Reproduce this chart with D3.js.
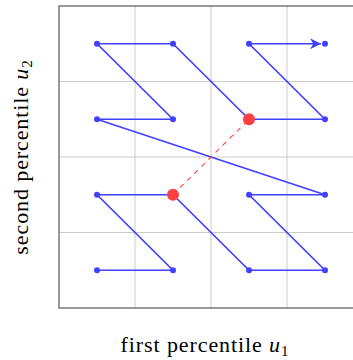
<!doctype html>
<html>
  <head>
    <script src="https://cdn.jsdelivr.net/npm/d3@7"></script>
    <style>
      body { margin: 0; background: #fff; }
      text { font-family: "Liberation Serif", "DejaVu Serif", serif; }
    </style>
  </head>
  <body>
    <script>
        // Z-order traversal of a 4x4 grid, in grid cell indices (col, row from bottom)
        var cols = [0, 1, 0, 1, 2, 3, 2, 3, 0, 1, 0, 1, 2, 3, 2, 3];
        var rows = [0, 0, 1, 1, 0, 0, 1, 1, 2, 2, 3, 3, 2, 2, 3, 3];
        var centers = [0.125, 0.375, 0.625, 0.875];
        var gridTicks = [0.25, 0.5, 0.75];
        var highlight = [[0.375, 0.375], [0.625, 0.625]];

        var blue = "#4040ff", red = "#ff4040";

        var margin = {top: 6, left: 59};
        var width = 304, height = 302;

        var svg = d3.select("body").append("svg")
            .attr("width", 353)
            .attr("height", 360);

        svg.append("defs").append("marker")
            .attr("id", "arrow")
            .attr("viewBox", "0 -5 10 10")
            .attr("refX", 10).attr("refY", 0)
            .attr("markerWidth", 11).attr("markerHeight", 11)
            .attr("markerUnits", "userSpaceOnUse")
            .attr("orient", "auto")
            .append("path")
            .attr("d", "M0,-5L10,0L0,5L3,0Z")
            .attr("fill", blue);

        var g = svg.append("g")
            .attr("transform", `translate(${margin.left},${margin.top})`);

        var x = d3.scaleLinear().domain([0, 1]).range([0, width]);
        var y = d3.scaleLinear().domain([0, 1]).range([height, 0]);

        // grid
        g.selectAll(".gx").data(gridTicks).enter().append("line")
            .attr("x1", d => x(d)).attr("x2", d => x(d))
            .attr("y1", 0).attr("y2", height)
            .attr("stroke", "#cccccc").attr("stroke-width", 1);
        g.selectAll(".gy").data(gridTicks).enter().append("line")
            .attr("y1", d => y(d)).attr("y2", d => y(d))
            .attr("x1", 0).attr("x2", width)
            .attr("stroke", "#cccccc").attr("stroke-width", 1);

        // frame
        g.append("rect")
            .attr("x", 0).attr("y", 0)
            .attr("width", width).attr("height", height)
            .attr("fill", "none")
            .attr("stroke", "#555").attr("stroke-width", 1.2);

        var pts = cols.map((c, i) => [centers[c], centers[rows[i]]]);

        // path, last segment shortened so the arrow sits before the dot
        var line = d3.line().x(d => x(d[0])).y(d => y(d[1]));
        g.append("path")
            .datum(pts.slice(0, -1))
            .attr("d", line)
            .attr("fill", "none")
            .attr("stroke", blue)
            .attr("stroke-width", 1.7)
            .attr("stroke-linejoin", "round");

        var a = pts[pts.length - 2], b = pts[pts.length - 1];
        g.append("line")
            .attr("x1", x(a[0])).attr("y1", y(a[1]))
            .attr("x2", x(b[0]) - 4).attr("y2", y(b[1]))
            .attr("stroke", blue)
            .attr("stroke-width", 1.7)
            .attr("marker-end", "url(#arrow)");

        g.selectAll(".pt").data(pts).enter().append("circle")
            .attr("cx", d => x(d[0])).attr("cy", d => y(d[1]))
            .attr("r", 3)
            .attr("fill", blue);

        // dashed link between highlighted cells
        g.append("line")
            .attr("x1", x(highlight[0][0])).attr("y1", y(highlight[0][1]))
            .attr("x2", x(highlight[1][0])).attr("y2", y(highlight[1][1]))
            .attr("stroke", red)
            .attr("stroke-width", 1.1)
            .attr("stroke-dasharray", "5,5");

        g.selectAll(".hl").data(highlight).enter().append("circle")
            .attr("cx", d => x(d[0])).attr("cy", d => y(d[1]))
            .attr("r", 6)
            .attr("fill", red);

        // axis labels
        var xl = svg.append("text")
            .attr("x", 205)
            .attr("y", 352)
            .attr("text-anchor", "middle")
            .attr("font-size", 22)
            .attr("letter-spacing", 0.9);
        xl.append("tspan").text("first percentile ");
        xl.append("tspan").attr("font-style", "italic").text("u");
        xl.append("tspan").attr("font-size", 15).attr("dy", 4).text("1");

        var yl = svg.append("text")
            .attr("transform", "translate(28,157) rotate(-90)")
            .attr("text-anchor", "middle")
            .attr("font-size", 22)
            .attr("letter-spacing", 0.9);
        yl.append("tspan").text("second percentile ");
        yl.append("tspan").attr("font-style", "italic").text("u");
        yl.append("tspan").attr("font-size", 15).attr("dy", 4).text("2");
    </script>
  </body>
</html>
